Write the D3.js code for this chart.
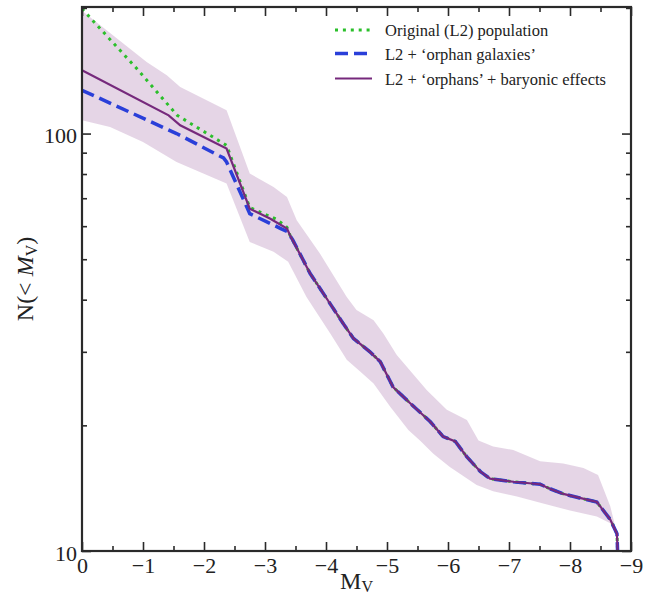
<!DOCTYPE html>
<html><head><meta charset="utf-8">
<script src="https://cdn.jsdelivr.net/npm/d3@7"></script>
<style>body{margin:0;background:#fff}svg{display:block}text{font-family:"Liberation Serif","Times New Roman",serif;fill:#222}</style>
</head><body><svg id="c" width="657" height="597"></svg>
<script>
// ---- data ----
const tailX = [-2.75,-3.08,-3.36,-3.41,-3.74,-3.90,-4.28,-4.45,-4.72,-4.89,-5.10,-5.38,-5.71,-5.92,-6.12,-6.31,-6.53,-6.69,-7.07,-7.51,-7.67,-7.89,-8.16,-8.44,-8.66,-8.77,-8.78];
const tailY = [66.1,62.6,59.2,57.1,46.2,42.6,35.1,32.3,30.0,28.4,24.7,22.6,20.4,18.8,18.3,16.8,15.5,14.9,14.65,14.45,14.1,13.7,13.4,13.1,11.9,11.0,10.0];

const baryX = [0,-1.42,-1.61,-2.37].concat(tailX);
const baryY = [141.8,110.6,104.7,92.1].concat(tailY);

const origX = [0,-0.9,-1.56,-2.37,-2.75,-3.19,-3.36].concat(tailX.slice(3));
const origY = [199,143,110.6,93.7,66.5,62.3,59.6].concat(tailY.slice(3));

const orphX = [0,-1.55,-2.32,-2.37,-2.75,-3.25,-3.36,-3.45].concat(tailX.slice(4));
const orphY = [127,100,87.4,85.5,64.3,59.3,58.3,55.8].concat(tailY.slice(4));

const bandHiX = [0,-1.06,-1.39,-1.61,-2.37,-2.75,-3.14,-3.36,-3.52,-3.90,-4.34,-4.50,-4.78,-4.94,-5.16,-5.65,-5.98,-6.31,-6.50,-6.74,-7.07,-7.51,-7.89,-8.22,-8.46,-8.66,-8.77];
const bandHiY = [197,148.4,137.9,129.3,113.7,80.2,74.5,70.5,62.0,51.6,40.6,37.8,35.7,33.2,29.5,24.3,21.8,20.6,18.4,17.8,17.45,16.4,16.2,15.8,15.2,12.8,11.0];
const bandLoX = [0,-0.46,-1.0,-1.55,-2.37,-2.75,-3.14,-3.38,-3.68,-4.07,-4.34,-4.56,-4.78,-5.05,-5.35,-5.54,-5.76,-6.03,-6.47,-6.74,-7.13,-7.56,-8.0,-8.44,-8.66,-8.77];
const bandLoY = [107.6,103.7,95.5,85.5,75.9,55.0,52.1,49.3,40.6,33.2,28.7,26.9,25.2,22.2,19.5,18.4,17.1,15.9,14.4,13.9,13.5,13.0,12.5,12.1,11.65,11.0];

const xTicks = [0,-1,-2,-3,-4,-5,-6,-7,-8,-9];
const xMinor = [-0.5,-1.5,-2.5,-3.5,-4.5,-5.5,-6.5,-7.5,-8.5];
const yTicks = [10,100];
const yMinor = [20,30,40,50,60,70,80,90,200];
const legendLabels = ["Original (L2) population","L2 + \u2018orphan galaxies\u2019","L2 + \u2018orphans\u2019 + baryonic effects"];

// ---- chart ----
const L=82,R=631,T=7,B=551;
const svg=d3.select("#c");
const x=d3.scaleLinear().domain([0,-9]).range([L,R]);
const y=d3.scaleLog().domain([10,201]).range([B,T]);
const fmt=v=>v<0?"\u2212"+Math.abs(v):String(v);

svg.append("clipPath").attr("id","clp").append("rect").attr("x",L).attr("y",T).attr("width",R-L).attr("height",B-T);
const g=svg.append("g").attr("clip-path","url(#clp)");

const line=d3.line().x(d=>x(d[0])).y(d=>y(d[1]));
const bandPts=d3.zip(bandHiX,bandHiY).concat(d3.zip(bandLoX,bandLoY).reverse());
g.append("path").attr("d",line(bandPts)+"Z").attr("fill","#7b2d80").attr("fill-opacity",0.2).attr("stroke","none");

const C={orig:"#2bbf2b",orph:"#2a3fd9",bary:"#76297c"};
g.append("path").attr("d",line(d3.zip(origX,origY))).attr("fill","none").attr("stroke",C.orig).attr("stroke-width",3).attr("stroke-dasharray","3,4.9");
g.append("path").attr("d",line(d3.zip(orphX,orphY))).attr("fill","none").attr("stroke",C.orph).attr("stroke-width",3.5).attr("stroke-dasharray","13,6");
g.append("path").attr("d",line(d3.zip(baryX,baryY))).attr("fill","none").attr("stroke",C.bary).attr("stroke-width",2.2);

// axes
const ax=svg.append("g");
const axisCol="#2a2a2a";
function styleAx(sel){sel.select(".domain").remove();sel.selectAll(".tick line").attr("stroke",axisCol).attr("stroke-width",1.6);}
ax.append("g").attr("transform",`translate(0,${B})`).call(d3.axisBottom(x).tickValues(xTicks).tickSize(-9).tickPadding(8).tickFormat(fmt)).call(styleAx)
  .selectAll("text").attr("font-size",22).attr("dy","0.76em").attr("y",5);
ax.append("g").attr("transform",`translate(0,${B})`).call(d3.axisBottom(x).tickValues(xMinor).tickSize(-5).tickFormat("")).call(styleAx);
ax.append("g").attr("transform",`translate(0,${T})`).call(d3.axisTop(x).tickValues(xTicks).tickSize(-9).tickFormat("")).call(styleAx);
ax.append("g").attr("transform",`translate(0,${T})`).call(d3.axisTop(x).tickValues(xMinor).tickSize(-5).tickFormat("")).call(styleAx);
ax.append("g").attr("transform",`translate(${L},0)`).call(d3.axisLeft(y).tickValues(yTicks).tickSize(-9).tickPadding(5).tickFormat(d3.format("d"))).call(styleAx)
  .selectAll("text").attr("font-size",22).attr("dy","0.42em");
ax.append("g").attr("transform",`translate(${L},0)`).call(d3.axisLeft(y).tickValues(yMinor).tickSize(-5).tickFormat("")).call(styleAx);
ax.append("g").attr("transform",`translate(${R},0)`).call(d3.axisRight(y).tickValues(yTicks).tickSize(-9).tickFormat("")).call(styleAx);
ax.append("g").attr("transform",`translate(${R},0)`).call(d3.axisRight(y).tickValues(yMinor).tickSize(-5).tickFormat("")).call(styleAx);
svg.append("rect").attr("x",L).attr("y",T).attr("width",R-L).attr("height",B-T).attr("fill","none").attr("stroke",axisCol).attr("stroke-width",2.2);

// axis labels
const xl=svg.append("text").attr("x",(L+R)/2).attr("y",589).attr("text-anchor","middle").attr("font-size",24);
xl.append("tspan").text("M");
xl.append("tspan").attr("font-size",16).attr("dy",3).text("V");
const yl=svg.append("text").attr("transform",`translate(33,${(T+B)/2}) rotate(-90)`).attr("text-anchor","middle").attr("font-size",24);
yl.append("tspan").text("N(< ");
yl.append("tspan").attr("font-style","italic").text("M");
yl.append("tspan").attr("font-size",16).attr("dy",4).text("V");
yl.append("tspan").attr("dy",-4).text(")");

// legend
const lg=svg.append("g");
const lys=[30,53.5,78.5];
const styles=[{c:C.orig,w:3,d:"3,4.9"},{c:C.orph,w:3.5,d:"13,6"},{c:C.bary,w:2.2,d:null}];
lys.forEach((ly,i)=>{
  const s=styles[i];
  const ln=lg.append("line").attr("x1",335).attr("x2",372).attr("y1",ly).attr("y2",ly).attr("stroke",s.c).attr("stroke-width",s.w);
  if(s.d) ln.attr("stroke-dasharray",s.d);
  lg.append("text").attr("x",385).attr("y",ly+6).attr("font-size",16.5).text(legendLabels[i]);
});
</script></body></html>
